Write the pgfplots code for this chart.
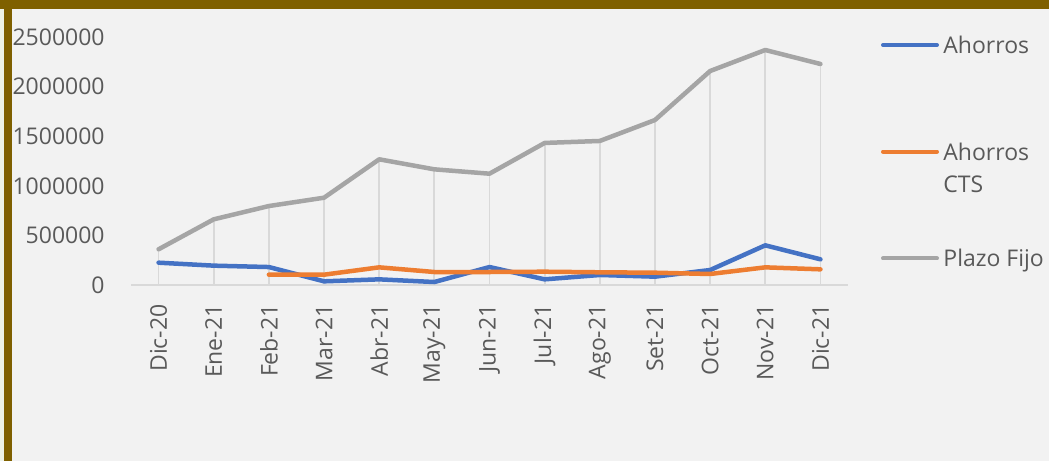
\documentclass[border=0pt]{standalone}
\usepackage{pgfplots}
\pgfplotsset{compat=1.18}
\usepackage{pgfplotstable}
\usepackage{fontspec}
\setmainfont{Open Sans}
\definecolor{bgc}{HTML}{F2F2F2}
\definecolor{goldc}{HTML}{7F6000}
\definecolor{palec}{HTML}{EEF2E6}
\definecolor{gridc}{HTML}{D9D9D9}
\definecolor{txtc}{HTML}{595959}
\definecolor{sblue}{HTML}{4472C4}
\definecolor{sorange}{HTML}{ED7D31}
\definecolor{sgray}{HTML}{A5A5A5}
\pgfplotstableread{
x ah cts pf
0 225000 nan 360000
1 195000 nan 662000
2 181000 104000 796000
3 37000 104000 880000
4 57000 178000 1267000
5 30000 131000 1166000
6 181000 131000 1122000
7 57000 134000 1432000
8 101000 128000 1452000
9 84000 124000 1663000
10 151000 111000 2157000
11 400000 178000 2369000
12 259000 158000 2228000
}\datatab
\begin{document}
\begin{tikzpicture}
\useasboundingbox (0,0) rectangle (524.5pt,230.5pt);
\fill[bgc] (0,0) rectangle (524.5pt,230.5pt);
\fill[palec] (0,0) rectangle (2pt,226pt);
\fill[goldc] (0,226pt) rectangle (524.5pt,230.5pt);
\fill[goldc] (2pt,0) rectangle (6pt,230.5pt);
\begin{axis}[
  at={(65.5pt,88pt)}, anchor=south west,
  scale only axis, width=358.5pt, height=124pt,
  xmin=-0.5, xmax=12.5, ymin=0, ymax=2500000,
  axis x line*=bottom, axis y line*=left,
  x axis line style={draw=gridc, line width=0.9pt, -},
  y axis line style={draw=none},
  xtick={0,...,12},
  xticklabels={Dic-20,Ene-21,Feb-21,Mar-21,Abr-21,May-21,Jun-21,Jul-21,Ago-21,Set-21,Oct-21,Nov-21,Dic-21},
  ytick={0,500000,1000000,1500000,2000000,2500000},
  scaled y ticks=false,
  yticklabel style={/pgf/number format/fixed, /pgf/number format/1000 sep={}, anchor=east, inner sep=0pt},
  yticklabel shift=13pt,
  xticklabel style={rotate=90, anchor=east, inner sep=0pt},
  xticklabel shift=9.5pt,
  tick label style={font=\fontsize{11.5}{13}\selectfont, text=txtc},
  /pgf/number format/assume math mode=true,
  major tick length=0pt,
  tick style={draw=none},
  clip=false,
  unbounded coords=jump,
]
\addplot[ycomb, draw=gridc, line width=0.9pt, no markers, forget plot] table[x=x, y=pf] {\datatab};
\addplot[sblue, line width=2.25pt, line cap=round, line join=round, no markers] table[x=x, y=ah] {\datatab};
\addplot[sorange, line width=2.25pt, line cap=round, line join=round, no markers] table[x=x, y=cts] {\datatab};
\addplot[sgray, line width=2.25pt, line cap=round, line join=round, no markers] table[x=x, y=pf] {\datatab};
\end{axis}
\begin{scope}[font=\fontsize{11.5}{13}\selectfont, text=txtc]
\draw[sblue, line width=2pt, line cap=round] (441.5pt,208pt) -- (468.5pt,208pt);
\node[anchor=base west, inner sep=0pt] at (471.5pt,203.5pt) {Ahorros};
\draw[sorange, line width=2pt, line cap=round] (441.5pt,154.7pt) -- (468.5pt,154.7pt);
\node[anchor=base west, inner sep=0pt] at (471.5pt,150.2pt) {Ahorros};
\node[anchor=base west, inner sep=0pt] at (471.5pt,134.2pt) {CTS};
\draw[sgray, line width=2pt, line cap=round] (441.5pt,101.3pt) -- (468.5pt,101.3pt);
\node[anchor=base west, inner sep=0pt] at (471.5pt,97.2pt) {Plazo Fijo};
\end{scope}
\end{tikzpicture}
\end{document}
